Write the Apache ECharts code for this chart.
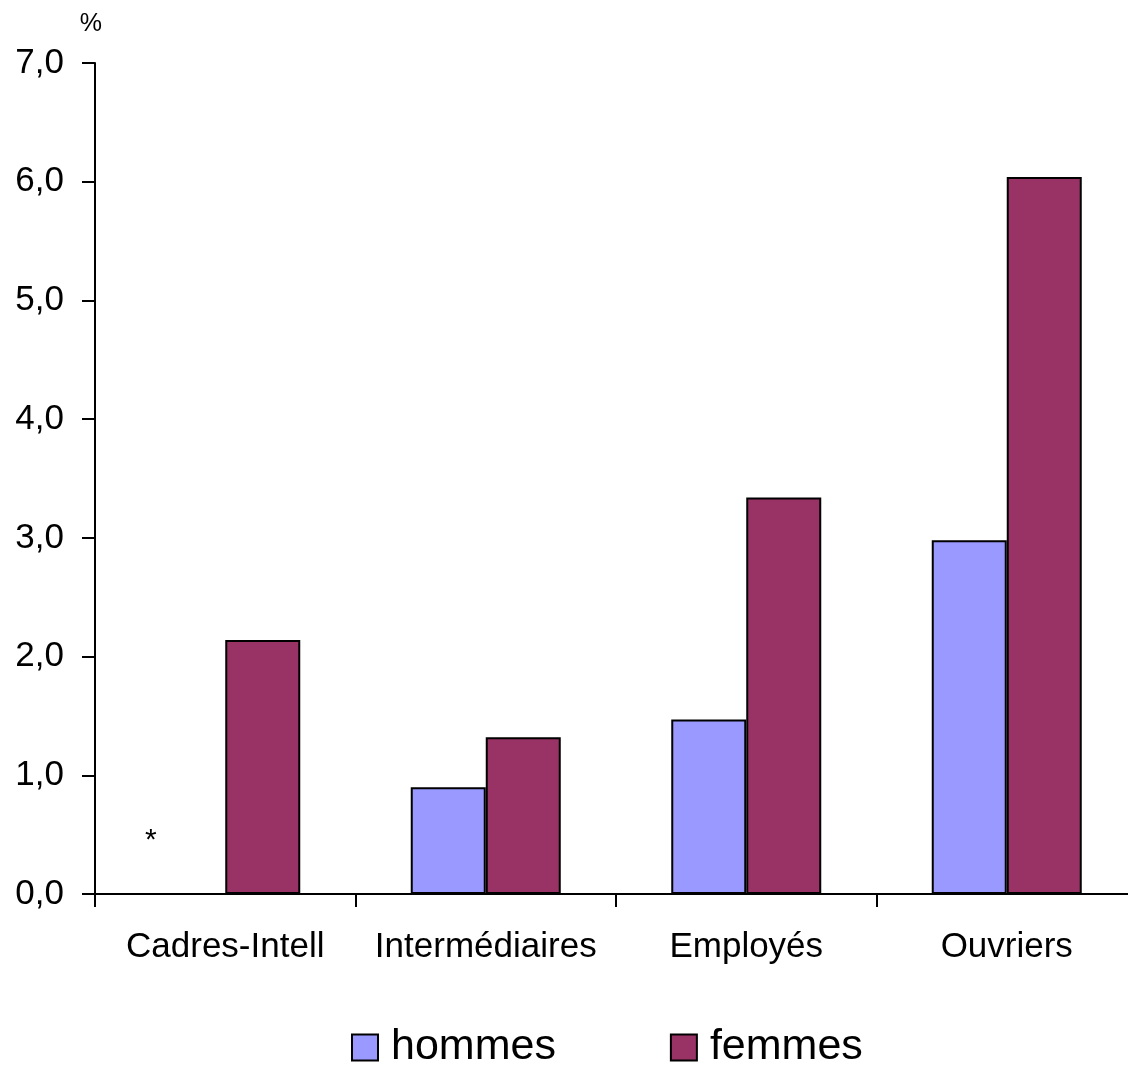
<!DOCTYPE html>
<html>
<head>
<meta charset="utf-8">
<script src="https://cdn.jsdelivr.net/npm/echarts@6/dist/echarts.min.js"></script>
<style>
  html, body { margin: 0; padding: 0; background: #fff; overflow: hidden; }
  #chart { width: 1140px; height: 1066px; }
</style>
</head>
<body>
<div id="chart"></div>
<script>
// Socio-professional categories and rates (%) by sex
const categories = ['Cadres-Intell', 'Intermédiaires', 'Employés', 'Ouvriers'];
const hommes = [null, 0.90, 1.47, 2.98];   // Cadres-Intell: not significant (*)
const femmes = [2.14, 1.32, 3.34, 6.04];
const yTicks = [0, 1, 2, 3, 4, 5, 6, 7];

const font = '"Liberation Sans", Arial, sans-serif';

// a null value is shown as an asterisk sitting on a zero-height bar
const hommesData = hommes.map(v => v === null
  ? { value: 0, itemStyle: { borderWidth: 0 },
      label: { show: true, position: 'top', distance: 38, offset: [-37, 0], formatter: '*',
               fontSize: 30, color: '#000', fontFamily: font } }
  : v);

const chart = echarts.init(document.getElementById('chart'), null, { renderer: 'canvas' });
chart.setOption({
  backgroundColor: '#fff',
  animation: false,
  grid: { left: 95, top: 63, width: 1042, height: 831, containLabel: false },
  legend: {
    bottom: -8,
    left: 346,
    itemWidth: 26,
    itemHeight: 26,
    itemGap: 114,
    icon: 'rect',
    textStyle: { fontSize: 43, color: '#000', fontFamily: font, padding: [0, 0, 0, 8] },
    data: ['hommes', 'femmes']
  },
  xAxis: {
    type: 'category',
    data: categories,
    axisLine: { lineStyle: { color: '#000', width: 2 } },
    axisTick: { show: true, interval: 0, length: 13, lineStyle: { color: '#000', width: 2 } },
    axisLabel: { interval: 0, hideOverlap: false, fontSize: 35, color: '#000', fontFamily: font, margin: 36 }
  },
  yAxis: {
    type: 'value',
    min: yTicks[0],
    max: yTicks[yTicks.length - 1],
    interval: 1,
    name: '%',
    nameGap: 26,
    nameTextStyle: { fontSize: 25, color: '#000', fontFamily: font, align: 'right', padding: [0, -7, 0, 0] },
    splitLine: { show: false },
    axisLine: { show: true, lineStyle: { color: '#000', width: 2 } },
    axisTick: { show: true, length: 13, lineStyle: { color: '#000', width: 2 } },
    axisLabel: {
      fontSize: 35, color: '#000', fontFamily: font, margin: 31,
      formatter: v => v.toFixed(1).replace('.', ',')
    }
  },
  series: [
    {
      name: 'hommes',
      type: 'bar',
      data: hommesData,
      barWidth: 75,
      barGap: '0%',
      itemStyle: { color: '#9999FF', borderColor: '#000', borderWidth: 2 }
    },
    {
      name: 'femmes',
      type: 'bar',
      data: femmes,
      barWidth: 75,
      barGap: '0%',
      itemStyle: { color: '#993366', borderColor: '#000', borderWidth: 2 }
    }
  ]
});
</script>
</body>
</html>
